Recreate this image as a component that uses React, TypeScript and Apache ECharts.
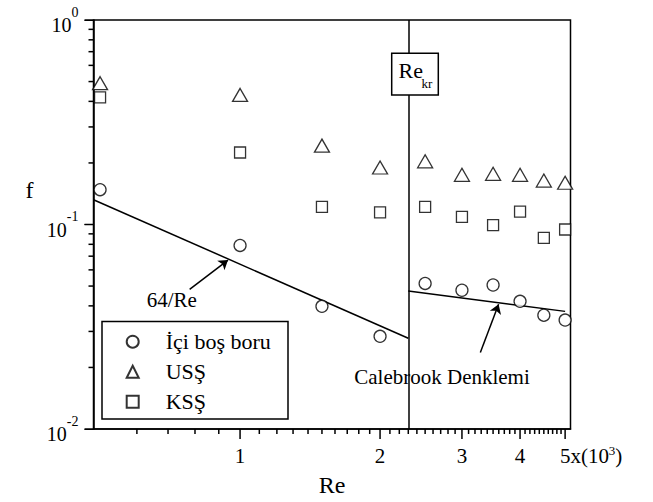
import React, { useEffect, useRef } from 'react';
import * as echarts from 'echarts';

// Re in units of 10^3
const RE = [0.5, 1, 1.5, 2, 2.5, 3, 3.5, 4, 4.5, 5];
const F_ICI = [0.148, 0.079, 0.0398, 0.0284, 0.0515, 0.0477, 0.0506, 0.0421, 0.036, 0.0341];
const F_USS = [0.491, 0.43, 0.243, 0.19, 0.2037, 0.175, 0.177, 0.175, 0.164, 0.16];
const F_KSS = [0.418, 0.225, 0.122, 0.1145, 0.122, 0.109, 0.0993, 0.1157, 0.0861, 0.0945];

const X_MIN = 0.484;
const X_MAX = 5.135;
const Y_MIN = 0.01;
const Y_MAX = 1;
const RE_KR = 2.3;

const LAMINAR_RE = [X_MIN, RE_KR];
const LAMINAR_F = [0.1322, 0.0278];
const COLEBROOK_RE = [RE_KR, 5];
const COLEBROOK_F = [0.0473, 0.0376];

const X_MAJOR = [1, 2, 3, 4, 5];
const X_MINOR = [0.6, 0.7, 0.8, 0.9, 1.1, 1.2, 1.3, 1.4, 1.5, 1.6, 1.7, 1.8, 1.9, 2.1, 2.2, 2.3, 2.4, 2.5, 2.6, 2.7, 2.8, 2.9,
  3.1, 3.2, 3.3, 3.4, 3.5, 3.6, 3.7, 3.8, 3.9, 4.1, 4.2, 4.3, 4.4, 4.5, 4.6, 4.7, 4.8, 4.9];
const Y_MAJOR = [0.01, 0.1, 1];
const Y_MINOR = [0.02, 0.03, 0.04, 0.05, 0.06, 0.07, 0.08, 0.09, 0.2, 0.3, 0.4, 0.5, 0.6, 0.7, 0.8, 0.9];

// annotations (data space)
const ARROW_LAM = [[0.779, 0.0482], [0.942, 0.067]];
const ARROW_COL = [[3.286, 0.02366], [3.597, 0.0407]];
const LABEL_LAM = [0.713, 0.0426];
const LABEL_COL = [2.718, 0.01794];

const L = (v: number) => Math.log10(v);
const FONT = "'Liberation Serif', 'Times New Roman', serif";
const BLACK = '#000';

export default function App() {
  const ref = useRef<HTMLDivElement>(null);
  useEffect(() => {
    if (!ref.current) return;
    const chart = echarts.init(ref.current, undefined, { renderer: 'svg' });
    const line = { color: BLACK, width: 1.5 };
    const markerStyle = { color: '#fff', borderColor: BLACK, borderWidth: 1.3 };
    const toPts = (xs: number[], ys: number[]) => xs.map((x, i) => [L(x), L(ys[i])]);
    const textLabel = (txt: string) => ({
      show: true,
      position: 'inside',
      formatter: txt,
      fontSize: 21,
      fontFamily: FONT,
      color: BLACK,
    });

    const option: any = {
      animation: false,
      textStyle: { fontFamily: FONT, color: BLACK },
      grid: {
        left: 93.5, top: 20, width: 477, height: 410,
        show: true, borderColor: BLACK, borderWidth: 1.5,
        containLabel: false,
      },
      xAxis: {
        type: 'value',
        min: L(X_MIN),
        max: L(X_MAX),
        position: 'bottom',
        splitLine: { show: false },
        name: 'Re',
        nameLocation: 'middle',
        nameGap: 44,
        nameTextStyle: { fontSize: 24, fontFamily: FONT, color: BLACK },
        axisLine: { show: true, onZero: false, lineStyle: line },
        axisTick: { show: false },
        axisLabel: {
          customValues: X_MAJOR.map(L),
          margin: 15,
          fontSize: 21,
          fontFamily: FONT,
          color: BLACK,
          formatter: (v: number) => {
            const r = Math.round(Math.pow(10, v));
            if (r === 5) return '{pad| }{n|5x(10}{sup|3}{n|)}';
            return '{n|' + r + '}';
          },
          rich: {
            n: { fontSize: 21, fontFamily: FONT, color: BLACK, lineHeight: 24 },
            sup: { fontSize: 13, fontFamily: FONT, color: BLACK, lineHeight: 13, verticalAlign: 'top' },
            pad: { width: 52, fontSize: 21 },
          },
        },
      },
      yAxis: {
        type: 'value',
        min: L(Y_MIN),
        max: L(Y_MAX),
        interval: 1,
        position: 'left',
        splitLine: { show: false },
        name: 'f',
        nameLocation: 'middle',
        nameRotate: 0,
        nameGap: 60,
        nameTextStyle: { fontSize: 24, fontFamily: FONT, color: BLACK, verticalAlign: 'bottom', lineHeight: 70 },
        axisLine: { show: true, onZero: false, lineStyle: line },
        axisTick: { show: true, inside: false, length: 9 },
        axisLabel: {
          margin: 15,
          fontSize: 20,
          fontFamily: FONT,
          color: BLACK,
          formatter: (v: number) => '{n|10}{sup|' + Math.round(v) + '}',
          rich: {
            n: { fontSize: 20, fontFamily: FONT, color: BLACK, lineHeight: 30, verticalAlign: 'bottom' },
            sup: { fontSize: 14, fontFamily: FONT, color: BLACK, lineHeight: 14, verticalAlign: 'top' },
          },
        },
      },
      legend: {
        left: 103,
        top: 318,
        orient: 'vertical',
        itemWidth: 12,
        itemHeight: 12,
        itemGap: 8,
        padding: [12.7, 10, 6, 22.7],
        selectedMode: false,
        data: ['İçi boş boru', 'USŞ', 'KSŞ'],
        textStyle: { fontSize: 22, fontFamily: FONT, color: BLACK, padding: [0, 0, 0, 22] },
      },
      series: [
        {
          name: 'İçi boş boru',
          type: 'scatter',
          clip: false,
          symbol: 'circle',
          symbolSize: 12,
          itemStyle: markerStyle,
          z: 5,
          data: toPts(RE, F_ICI),
        },
        {
          name: 'USŞ',
          type: 'scatter',
          clip: false,
          symbol: 'triangle',
          symbolSize: [15, 13],
          itemStyle: markerStyle,
          z: 5,
          data: toPts(RE, F_USS),
        },
        {
          name: 'KSŞ',
          type: 'scatter',
          clip: false,
          symbol: 'rect',
          symbolSize: 11,
          itemStyle: markerStyle,
          z: 5,
          data: toPts(RE, F_KSS),
        },
        {
          name: '64/Re',
          type: 'line',
          clip: false,
          symbol: 'none',
          lineStyle: line,
          z: 3,
          data: toPts(LAMINAR_RE, LAMINAR_F),
          markLine: {
            silent: true,
            symbol: ['none', 'arrow'],
            symbolSize: 9,
            label: { show: false },
            lineStyle: { color: BLACK, type: 'solid', width: 1.5 },
            data: [
              [{ coord: [L(ARROW_LAM[0][0]), L(ARROW_LAM[0][1])] }, { coord: [L(ARROW_LAM[1][0]), L(ARROW_LAM[1][1])] }],
              [{ coord: [L(ARROW_COL[0][0]), L(ARROW_COL[0][1])] }, { coord: [L(ARROW_COL[1][0]), L(ARROW_COL[1][1])] }],
              [
                { coord: [L(RE_KR), L(Y_MIN)], symbol: 'none' },
                { coord: [L(RE_KR), L(Y_MAX)], symbol: 'none' },
              ],
            ],
          },
          markPoint: {
            silent: true,
            symbol: 'circle',
            symbolSize: 1,
            itemStyle: { color: 'rgba(0,0,0,0)' },
            data: [
              { coord: [L(LABEL_LAM[0]), L(LABEL_LAM[1])], label: textLabel('64/Re') },
              { coord: [L(LABEL_COL[0]), L(LABEL_COL[1])], label: textLabel('Calebrook Denklemi') },
            ],
          },
        },
        {
          name: 'Calebrook',
          type: 'line',
          clip: false,
          symbol: 'none',
          lineStyle: line,
          z: 3,
          data: toPts(COLEBROOK_RE, COLEBROOK_F),
        },
      ],
    };
    chart.setOption(option);

    // boxes, labels and axis ticks; tick positions come from the chart's own scales
    const toPx = (x: number, y: number) =>
      chart.convertToPixel({ xAxisIndex: 0, yAxisIndex: 0 }, [x, y]) as number[];
    const elems: any[] = [
      {
        type: 'rect',
        z: 1,
        shape: { x: 102, y: 321.5, width: 186, height: 97.5 },
        style: { fill: '#fff', stroke: BLACK, lineWidth: 1.5 },
      },
      {
        type: 'rect',
        z: 20,
        shape: { x: 391.7, y: 53.3, width: 46.6, height: 41.7 },
        style: { fill: '#fff', stroke: BLACK, lineWidth: 1.5 },
      },
      {
        type: 'text',
        z: 21,
        x: 398.5,
        y: 70,
        style: { text: 'Re', fontSize: 22, fontFamily: FONT, fill: BLACK, align: 'left', verticalAlign: 'middle' },
      },
      {
        type: 'text',
        z: 21,
        x: 421.5,
        y: 83,
        style: { text: 'kr', fontSize: 13, fontFamily: FONT, fill: BLACK, align: 'left', verticalAlign: 'middle' },
      },
    ];
    X_MAJOR.concat(X_MINOR).forEach((v, i) => {
      const len = i < X_MAJOR.length ? 10 : 5;
      const p = toPx(L(v), L(Y_MIN));
      if (p && isFinite(p[0]) && isFinite(p[1])) {
        elems.push({ type: 'line', z: 30, shape: { x1: p[0], y1: p[1], x2: p[0], y2: p[1] + len }, style: { stroke: BLACK, lineWidth: 1.5 } });
      }
    });
    Y_MAJOR.concat(Y_MINOR).forEach((v, i) => {
      const len = i < Y_MAJOR.length ? 9 : 5;
      const p = toPx(L(X_MIN), L(v));
      if (p && isFinite(p[0]) && isFinite(p[1])) {
        elems.push({ type: 'line', z: 30, shape: { x1: p[0] - len, y1: p[1], x2: p[0], y2: p[1] }, style: { stroke: BLACK, lineWidth: 1.5 } });
      }
    });
    chart.setOption({ graphic: elems });

    return () => chart.dispose();
  }, []);
  return <div ref={ref} style={{ position: 'absolute', left: 0, top: 0, width: 653, height: 502, background: '#fff' }} />;
}
